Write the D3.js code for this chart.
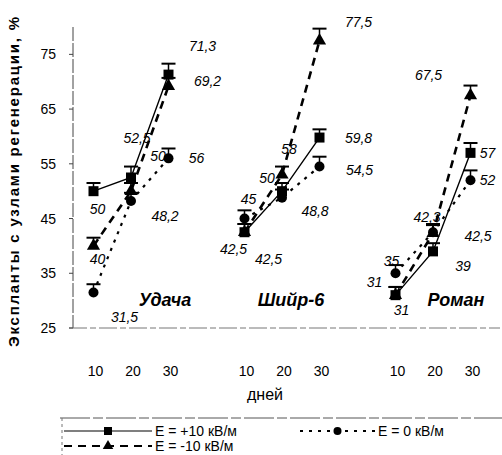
<!DOCTYPE html>
<html>
<head>
<meta charset="utf-8">
<script src="https://cdn.jsdelivr.net/npm/d3@7"></script>
<style>
  body { margin: 0; background: #fff; }
  svg { font-family: "Liberation Sans", Arial, sans-serif; }
</style>
</head>
<body>
<svg id="chart"></svg>
<script>
const groups = ["Удача", "Шийр-6", "Роман"];
const days = [10, 20, 30];
const yTicks = [25, 35, 45, 55, 65, 75];

// values per group (rows) and per day (columns)
const plus10 = [[50, 52.5, 71.3], [42.5, 50, 59.8], [31, 39, 57]];
const zero = [[31.5, 48.2, 56], [45, 48.8, 54.5], [35, 42.5, 52]];
const minus10 = [[40, 50, 69.2], [42.5, 53, 77.5], [31, 42.3, 67.5]];

const plus10Err = [[1.5, 2, 2], [1.5, 1.5, 1.5], [1.5, 1.5, 1.8]];
const zeroErr = [[1.5, 1.5, 1.8], [1.5, 1.5, 1.8], [1.5, 1.5, 1.8]];
const minus10Err = [[1.5, 1.5, 1.5], [1.5, 1.5, 2.2], [1.5, 1.5, 1.8]];

// labels as printed next to the points
const plus10Labels = [["50", "52,5", "71,3"], ["42,5", "50", "59,8"], ["31", "39", "57"]];
const zeroLabels = [["31,5", "48,2", "56"], ["45", "48,8", "54,5"], ["35", "42,5", "52"]];
const minus10Labels = [["40", "50", "69,2"], ["42,5", "58", "77,5"], ["31", "42,3", "67,5"]];

// label offsets from the point (layout only)
const plus10LabelPos = [[[4, 18], [6, -40], [34, -29]], [[-11, 17], [-15, -13], [39, 0]], [[6, 15], [30, 15], [17, 0]]];
const zeroLabelPos = [[[31, 25], [34, 15], [28, 0]], [[4, -20], [33, 13], [40, 3]], [[-4, -12], [45, 4], [17, 0]]];
const minus10LabelPos = [[[4, 13], [27, -35], [39, -5]], [[24, 27], [7, -26], [39, -19]], [[-21, -13], [-6, -16], [-42, -20]]];

const series = [
  { name: "E = +10 кВ/м", values: plus10, err: plus10Err, labels: plus10Labels, pos: plus10LabelPos,
    dash: null, width: 1.4, marker: "square" },
  { name: "E = 0 кВ/м", values: zero, err: zeroErr, labels: zeroLabels, pos: zeroLabelPos,
    dash: "3,6", width: 2.2, marker: "circle" },
  { name: "E = -10 кВ/м", values: minus10, err: minus10Err, labels: minus10Labels, pos: minus10LabelPos,
    dash: "8,6", width: 2.6, marker: "triangle" }
];

const W = 502, H = 455;
const svg = d3.select("#chart").attr("width", W).attr("height", H);

const y = d3.scaleLinear().domain([25, 80]).range([328, 27]);
const xGroup = d3.scalePoint().domain(groups).range([131, 433]);
const xDay = d3.scaleLinear().domain([10, 30]).range([-37.5, 37.5]);
const xPos = (gi, d) => xGroup(groups[gi]) + xDay(d);

// axes
const axisX0 = 73;
svg.append("line")
  .attr("x1", axisX0).attr("x2", axisX0)
  .attr("y1", y(80)).attr("y2", y(25))
  .attr("stroke", "#444").attr("stroke-width", 1).attr("stroke-dasharray", "14,2");
svg.append("line")
  .attr("x1", axisX0 - 4).attr("x2", 500)
  .attr("y1", y(25)).attr("y2", y(25))
  .attr("stroke", "#777").attr("stroke-width", 1).attr("stroke-dasharray", "18,3,6,3");

const yAxis = svg.append("g");
yAxis.selectAll("text")
  .data(yTicks)
  .enter()
  .append("text")
  .attr("x", 56)
  .attr("y", d => y(d))
  .attr("dy", "0.36em")
  .attr("text-anchor", "end")
  .attr("font-size", 14)
  .text(d => d);
yAxis.selectAll("line")
  .data(yTicks)
  .enter()
  .append("line")
  .attr("x1", axisX0 - 4).attr("x2", axisX0)
  .attr("y1", d => y(d)).attr("y2", d => y(d))
  .attr("stroke", "#444");

// x tick labels
groups.forEach((g, gi) => {
  svg.append("g").selectAll("text")
    .data(days)
    .enter()
    .append("text")
    .attr("x", d => xPos(gi, d) + 2)
    .attr("y", 376)
    .attr("text-anchor", "middle")
    .attr("font-size", 14)
    .text(d => d);
});

svg.append("text")
  .attr("x", 265).attr("y", 400)
  .attr("text-anchor", "middle")
  .attr("font-size", 16)
  .text("дней");

svg.append("text")
  .attr("transform", "translate(19, 182) rotate(-90)")
  .attr("text-anchor", "middle")
  .attr("font-size", 15)
  .attr("font-weight", "bold")
  .attr("textLength", 330)
  .attr("lengthAdjust", "spacing")
  .text("Экспланты с узлами регенерации, %");

// group names
const groupNameX = [165, 291, 456];
svg.append("g").selectAll("text")
  .data(groups)
  .enter()
  .append("text")
  .attr("x", (d, i) => groupNameX[i])
  .attr("y", 306)
  .attr("text-anchor", "middle")
  .attr("font-size", 18)
  .attr("font-weight", "bold")
  .attr("font-style", "italic")
  .text(d => d);

function drawMarker(sel, type, size) {
  if (type === "square") {
    sel.append("rect")
      .attr("x", -size / 2).attr("y", -size / 2)
      .attr("width", size).attr("height", size)
      .attr("fill", "#000");
  } else if (type === "circle") {
    sel.append("circle").attr("r", size / 2).attr("fill", "#000");
  } else {
    sel.append("path")
      .attr("d", d3.symbol().type(d3.symbolTriangle).size(size * size * 0.75)())
      .attr("fill", "#000");
  }
}

const line = d3.line()
  .x(d => d.x)
  .y(d => d.y);

series.forEach(s => {
  groups.forEach((g, gi) => {
    const pts = days.map((d, di) => ({
      x: xPos(gi, d), y: y(s.values[gi][di]),
      err: s.err[gi][di], v: s.values[gi][di],
      label: s.labels[gi][di], off: s.pos[gi][di]
    }));

    svg.append("path")
      .datum(pts)
      .attr("d", line)
      .attr("fill", "none")
      .attr("stroke", "#000")
      .attr("stroke-width", s.width)
      .attr("stroke-dasharray", s.dash);

    const pg = svg.append("g").selectAll("g")
      .data(pts)
      .enter()
      .append("g")
      .attr("transform", d => `translate(${d.x},${d.y})`);

    // error bar upward with cap
    pg.append("line")
      .attr("x1", 0).attr("x2", 0)
      .attr("y1", 0).attr("y2", d => y(d.v + d.err) - d.y)
      .attr("stroke", "#000").attr("stroke-width", 1.5);
    pg.append("line")
      .attr("x1", -7).attr("x2", 7)
      .attr("y1", d => y(d.v + d.err) - d.y).attr("y2", d => y(d.v + d.err) - d.y)
      .attr("stroke", "#000").attr("stroke-width", 2);

    pg.each(function () { drawMarker(d3.select(this), s.marker, 10); });

    svg.append("g").selectAll("text")
      .data(pts)
      .enter()
      .append("text")
      .attr("x", d => d.x + d.off[0])
      .attr("y", d => d.y + d.off[1])
      .attr("dy", "0.36em")
      .attr("text-anchor", "middle")
      .attr("font-size", 14)
      .attr("font-style", "italic")
      .text(d => d.label);
  });
});

// legend
const lg = svg.append("g");
lg.append("line")
  .attr("x1", 60).attr("x2", 502).attr("y1", 418).attr("y2", 418)
  .attr("stroke", "#555").attr("stroke-dasharray", "30,3,10,3");
lg.append("line")
  .attr("x1", 62).attr("x2", 62).attr("y1", 418).attr("y2", 455)
  .attr("stroke", "#777").attr("stroke-dasharray", "3,3");

const legendPos = [[64, 431, 152], [300, 431, 375], [64, 446, 152]];
series.forEach((s, i) => {
  const [x0, ly, x1] = legendPos[i];
  const item = lg.append("g");
  item.append("line")
    .attr("x1", x0).attr("x2", x1).attr("y1", ly).attr("y2", ly)
    .attr("stroke", "#000")
    .attr("stroke-width", s.width * 0.8)
    .attr("stroke-dasharray", s.dash);
  const m = item.append("g").attr("transform", `translate(${(x0 + x1) / 2},${ly})`);
  drawMarker(m, s.marker, 8);
  item.append("text")
    .attr("x", x1 + 3).attr("y", ly)
    .attr("dy", "0.36em")
    .attr("font-size", 14)
    .text(s.name);
});
</script>
</body>
</html>
